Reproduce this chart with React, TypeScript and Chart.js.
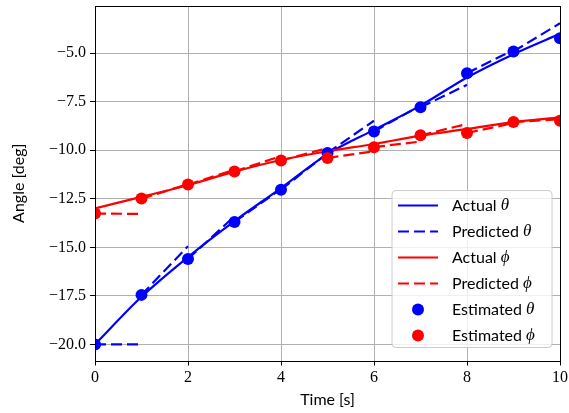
import React, { useEffect, useRef } from 'react';
import { Chart, registerables } from 'chart.js';

Chart.register(...registerables);

const timeS = [0, 1, 2, 3, 4, 5, 6, 7, 8, 9, 10];
const actualTheta = [-20.0, -17.55, -15.5, -13.65, -11.95, -10.2, -8.95, -7.7, -6.25, -5.05, -4.0];
const actualPhi = [-13.0, -12.4, -11.8, -11.1, -10.5, -10.05, -9.68, -9.25, -8.9, -8.55, -8.3];
const estTheta = [-20.0, -17.45, -15.6, -13.69, -12.03, -10.14, -9.03, -7.79, -6.03, -4.91, -4.23];
const estPhi = [-13.26, -12.49, -11.77, -11.09, -10.53, -10.4, -9.84, -9.23, -9.11, -8.55, -8.48];
const predThetaEnd = [-20.0, -14.94, -13.4, -12.0, -10.15, -8.48, -7.7, -6.63, -4.83, -3.46];
const predPhiEnd = [-13.28, -11.75, -11.0, -10.3, -9.89, -10.05, -9.55, -8.65, -8.6, -8.4];
const xTicks = [0, 2, 4, 6, 8, 10];
const yTicks = [-20, -17.5, -15, -12.5, -10, -7.5, -5];
const xRange = [0, 10];
const yRange = [-20.83, -2.57];
const legendRows = [
  { text: 'Actual ', sym: 'θ', color: '#0000ff', kind: 'solid' },
  { text: 'Predicted ', sym: 'θ', color: '#0000ff', kind: 'dash' },
  { text: 'Actual ', sym: 'ϕ', color: '#ff0000', kind: 'solid' },
  { text: 'Predicted ', sym: 'ϕ', color: '#ff0000', kind: 'dash' },
  { text: 'Estimated ', sym: 'θ', color: '#0000ff', kind: 'dot' },
  { text: 'Estimated ', sym: 'ϕ', color: '#ff0000', kind: 'dot' },
];

const DASH = [11, 5];
const LW = 2.2;

function pts(ys: number[]) {
  return ys.map((y, i) => ({ x: timeS[i], y }));
}

function segments(est: number[], ends: number[]) {
  const out: any[] = [];
  for (let k = 0; k < ends.length; k++) {
    out.push({ x: timeS[k], y: est[k] }, { x: timeS[k + 1], y: ends[k] });
    if (k < ends.length - 1) out.push({ x: timeS[k + 1], y: null });
  }
  return out;
}

const framePlugin = {
  id: 'frame',
  afterDatasetsDraw(chart: any) {
    const { ctx, chartArea: a } = chart;
    ctx.save();
    ctx.strokeStyle = '#000';
    ctx.lineWidth = 1;
    ctx.strokeRect(Math.round(a.left) + 0.5, Math.round(a.top) + 0.5, Math.round(a.right - a.left), Math.round(a.bottom - a.top));
    ctx.restore();
  },
};

const legendPlugin = {
  id: 'innerLegend',
  afterDraw(chart: any) {
    const { ctx, chartArea: a } = chart;
    const w = 160;
    const h = 157;
    const x0 = a.right - 8 - w;
    const y0 = a.bottom - 13 - h;
    ctx.save();
    ctx.beginPath();
    const r = 4;
    ctx.moveTo(x0 + r, y0);
    ctx.arcTo(x0 + w, y0, x0 + w, y0 + h, r);
    ctx.arcTo(x0 + w, y0 + h, x0, y0 + h, r);
    ctx.arcTo(x0, y0 + h, x0, y0, r);
    ctx.arcTo(x0, y0, x0 + w, y0, r);
    ctx.closePath();
    ctx.fillStyle = 'rgba(255,255,255,0.8)';
    ctx.fill();
    ctx.strokeStyle = '#cccccc';
    ctx.lineWidth = 1;
    ctx.stroke();
    legendRows.forEach((row, i) => {
      const cy = y0 + 15 + i * 26;
      const hx0 = x0 + 6;
      const hx1 = x0 + 46;
      ctx.strokeStyle = row.color;
      ctx.fillStyle = row.color;
      ctx.lineWidth = LW;
      if (row.kind === 'dot') {
        ctx.beginPath();
        ctx.arc((hx0 + hx1) / 2, cy, 6, 0, Math.PI * 2);
        ctx.fill();
      } else {
        ctx.setLineDash(row.kind === 'dash' ? DASH : []);
        ctx.beginPath();
        ctx.moveTo(hx0, cy);
        ctx.lineTo(hx1, cy);
        ctx.stroke();
        ctx.setLineDash([]);
      }
      ctx.fillStyle = '#000';
      ctx.textBaseline = 'middle';
      ctx.textAlign = 'left';
      ctx.font = '16px Lato';
      const tx = x0 + 60;
      ctx.fillText(row.text, tx, cy);
      const tw = ctx.measureText(row.text).width;
      ctx.font = 'italic 17px "Liberation Serif"';
      ctx.fillText(row.sym, tx + tw, cy);
    });
    ctx.restore();
  },
};

export default function App() {
  const ref = useRef<HTMLCanvasElement | null>(null);
  useEffect(() => {
    if (!ref.current) return;
    const chart = new Chart(ref.current, {
      type: 'line',
      data: {
        datasets: [
          {
            label: 'Actual θ', data: pts(actualTheta), borderColor: '#0000ff', borderWidth: LW,
            pointRadius: 0, cubicInterpolationMode: 'monotone', order: 6, clip: 0,
          } as any,
          {
            label: 'Predicted θ', data: segments(estTheta, predThetaEnd), borderColor: '#0000ff', borderWidth: LW,
            borderDash: DASH, pointRadius: 0, tension: 0, spanGaps: false, order: 5, clip: 0,
          },
          {
            label: 'Actual ϕ', data: pts(actualPhi), borderColor: '#ff0000', borderWidth: LW,
            pointRadius: 0, cubicInterpolationMode: 'monotone', order: 4, clip: 0,
          },
          {
            label: 'Predicted ϕ', data: segments(estPhi, predPhiEnd), borderColor: '#ff0000', borderWidth: LW,
            borderDash: DASH, pointRadius: 0, tension: 0, spanGaps: false, order: 3, clip: 0,
          },
          {
            label: 'Estimated θ', data: pts(estTheta), showLine: false, pointRadius: 6, pointBorderWidth: 0,
            pointBackgroundColor: '#0000ff', borderColor: '#0000ff', order: 2, clip: 0,
          },
          {
            label: 'Estimated ϕ', data: pts(estPhi), showLine: false, pointRadius: 6, pointBorderWidth: 0,
            pointBackgroundColor: '#ff0000', borderColor: '#ff0000', order: 1, clip: 0,
          },
        ],
      },
      options: {
        responsive: false,
        animation: false,
        events: [],
        layout: { padding: { left: 0, right: 9, top: 5, bottom: 0 } },
        plugins: { legend: { display: false }, tooltip: { enabled: false } },
        scales: {
          x: {
            type: 'linear', min: xRange[0], max: xRange[1],
            afterFit: (s: any) => { s.height = 52.5; s.paddingLeft = 0; s.paddingRight = 0; s.paddingTop = 0; s.paddingBottom = 0; },
            afterBuildTicks: (s: any) => { s.ticks = xTicks.map((v) => ({ value: v })); },
            grid: { color: '#b0b0b0', lineWidth: 1, tickColor: '#000', tickLength: 5 },
            border: { display: false },
            ticks: {
              color: '#000', padding: 3, maxRotation: 0,
              font: { family: '"Liberation Serif", serif', size: 16 },
              callback: (v: any) => String(v),
            },
            title: {
              display: true, text: 'Time [s]', color: '#000',
              font: { family: 'Lato', size: 16 }, padding: { top: 0, bottom: 4 },
            },
          },
          y: {
            type: 'linear', min: yRange[0], max: yRange[1],
            afterFit: (s: any) => { s.width = 95; s.paddingLeft = 0; s.paddingRight = 0; s.paddingTop = 0; s.paddingBottom = 0; },
            afterBuildTicks: (s: any) => { s.ticks = yTicks.map((v) => ({ value: v })); },
            grid: { color: '#b0b0b0', lineWidth: 1, tickColor: '#000', tickLength: 5 },
            border: { display: false },
            ticks: {
              color: '#000', padding: 4,
              font: { family: '"Liberation Serif", serif', size: 16 },
              callback: (v: any) => (v < 0 ? '\u2212' : '') + Math.abs(Number(v)).toFixed(1),
            },
            title: {
              display: true, text: 'Angle [deg]', color: '#000',
              font: { family: 'Lato', size: 16 }, padding: { top: 9, bottom: 0 },
            },
          },
        },
      } as any,
      plugins: [framePlugin, legendPlugin],
    });
    return () => chart.destroy();
  }, []);
  return (
    <div style={{ position: 'fixed', left: 0, top: 0, width: 569, height: 413, background: '#fff' }}>
      <canvas ref={ref} width={569} height={413} style={{ display: 'block' }} />
    </div>
  );
}
